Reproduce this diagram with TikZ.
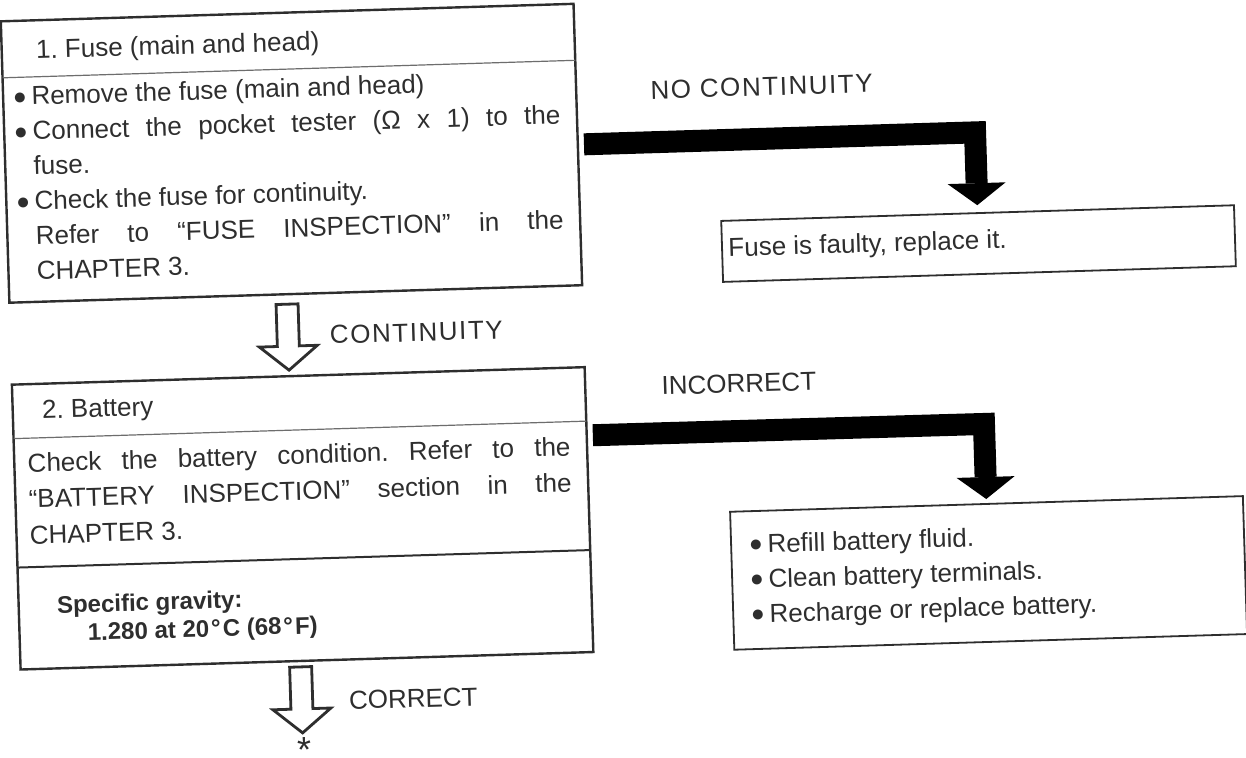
\documentclass[tikz,border=0pt]{standalone}
\usepackage{fontspec}
\setmainfont{Liberation Sans}
\newfontfamily\spacedfont[LetterSpace=6]{Liberation Sans}
\newfontfamily\dotfont{DejaVu Sans}
\usetikzlibrary{arrows.meta,calc}
\definecolor{ink}{gray}{0.18}
\definecolor{rule}{gray}{0.18}
% round bullet hung to the left of the text column
\newcommand{\itembul}{\leavevmode\llap{\raisebox{2.2pt}{\dotfont\fontsize{6.5pt}{6.5pt}\selectfont ●}\hspace{3pt}}}
\begin{document}
\frenchspacing
\begin{tikzpicture}[x=0.5pt,y=-0.5pt,
  panel/.style={draw=rule, line width=1.2pt, inner sep=0, fill=none},
  result/.style={draw=rule, line width=0.9pt, inner sep=0},
  txt/.style={inner sep=0, anchor=base west, text=ink, font=\fontsize{13pt}{17.5pt}\selectfont},
  boldtxt/.style={txt, font=\fontsize{12pt}{14pt}\selectfont\bfseries},
  branch/.style={txt, font=\fontsize{13pt}{15pt}\selectfont},
  thinrule/.style={draw=rule!70, line width=0.6pt},
  midrule/.style={draw=rule, line width=1pt},
  fat/.style={draw=black, line width=11pt, line join=miter,
    -{Triangle[width=29pt,length=11pt,line width=0pt]}},
  hollow/.pic={\draw[line width=1.4pt, draw=rule, fill=white, line join=miter]
    (-11,0) -- (11,0) -- (11,42) -- (29,42) -- (0,66) -- (-29,42) -- (-11,42) -- cycle;}
]
\useasboundingbox (0,0) rectangle (1246,758);
\fill[white] (0,0) rectangle (1246,758);

\begin{scope}[rotate around={1.75:(623,379)}, every node/.append style={transform shape}]

% step 1: fuse
\node[panel, minimum width=286.5pt, minimum height=140.75pt] (fuse) at (298.5,143.25) {};
\draw[thinrule] (12,59) -- (585,59);
\node[txt] (fuseHead) at (46,41) {1. Fuse (main and head)};
\node[txt] (fuseBody) at (40,87) {\parbox[t]{264pt}{\fontsize{13pt}{17.5pt}\selectfont
  \itembul Remove the fuse (main and head)\\
  \itembul\makebox[264pt][s]{Connect the pocket tester (Ω x 1) to the}\\
  fuse.\\
  \itembul Check the fuse for continuity.\\
  \makebox[264pt][s]{Refer to “FUSE INSPECTION” in the}\\
  CHAPTER 3.}};

% step 1 failure result
\node[result, minimum width=256.5pt, minimum height=30.5pt] (faulty) at (982.5,254.5) {};
\node[txt] (faultyText) at (732,260) {Fuse is faulty, replace it.};
\node[branch] (noCont) at (659,100) {\spacedfont NO CONTINUITY};
\coordinate (bendA) at (982.5,143.25);
\draw[fat, shorten <=2.5pt, shorten >=3.5pt] (fuse.east) -- (bendA) -- (faulty.north);

% step 1 -> step 2
\coordinate (contTop) at (289.5,294);
\pic at (contTop) {hollow};
\node[branch] (cont) at (331,335) {\spacedfont CONTINUITY};

% step 2: battery
\node[panel, minimum width=286.5pt, minimum height=142.5pt] (battery) at (298.5,508.5) {};
\draw[thinrule] (12,420) -- (585,420);
\draw[midrule] (12,549) -- (585,549);
\node[txt] (batHead) at (41,401) {2. Battery};
\node[txt] (batBody) at (25,454) {\parbox[t]{271.5pt}{\fontsize{13pt}{18pt}\selectfont
  \makebox[271.5pt][s]{Check the battery condition. Refer to the}\\
  \makebox[271.5pt][s]{“BATTERY INSPECTION” section in the}\\
  CHAPTER 3.}};
\node[boldtxt] (spec) at (50,596) {Specific gravity:};
\node[boldtxt] (specVal) at (80,624) {1.280 at 20\kern1pt°\kern1pt C (68\kern1pt°\kern1pt F)};

% step 2 failure result
\node[result, minimum width=256.5pt, minimum height=69pt] (results) at (982.5,584) {};
\node[txt] (resText) at (762,557) {\parbox[t]{200pt}{\fontsize{13pt}{17.5pt}\selectfont
  \itembul Refill battery fluid.\\
  \itembul Clean battery terminals.\\
  \itembul Recharge or replace battery.}};
\node[branch] (incorrect) at (661,396) {INCORRECT};
\coordinate (batOut) at ($(battery.north east)!0.242!(battery.south east)$);
\coordinate (bendB) at (982.5,435);
\draw[fat, shorten <=2.5pt, shorten >=2pt] (batOut) -- (bendB) -- (results.north);

% step 2 -> next
\coordinate (corrTop) at (292,657);
\pic at (corrTop) {hollow};
\node[branch] (correct) at (339,701) {CORRECT};
\node[inner sep=0, anchor=north, text=ink, font=\fontsize{18pt}{18pt}\selectfont] (star) at (293,727.5) {*};

\end{scope}
\end{tikzpicture}
\end{document}
